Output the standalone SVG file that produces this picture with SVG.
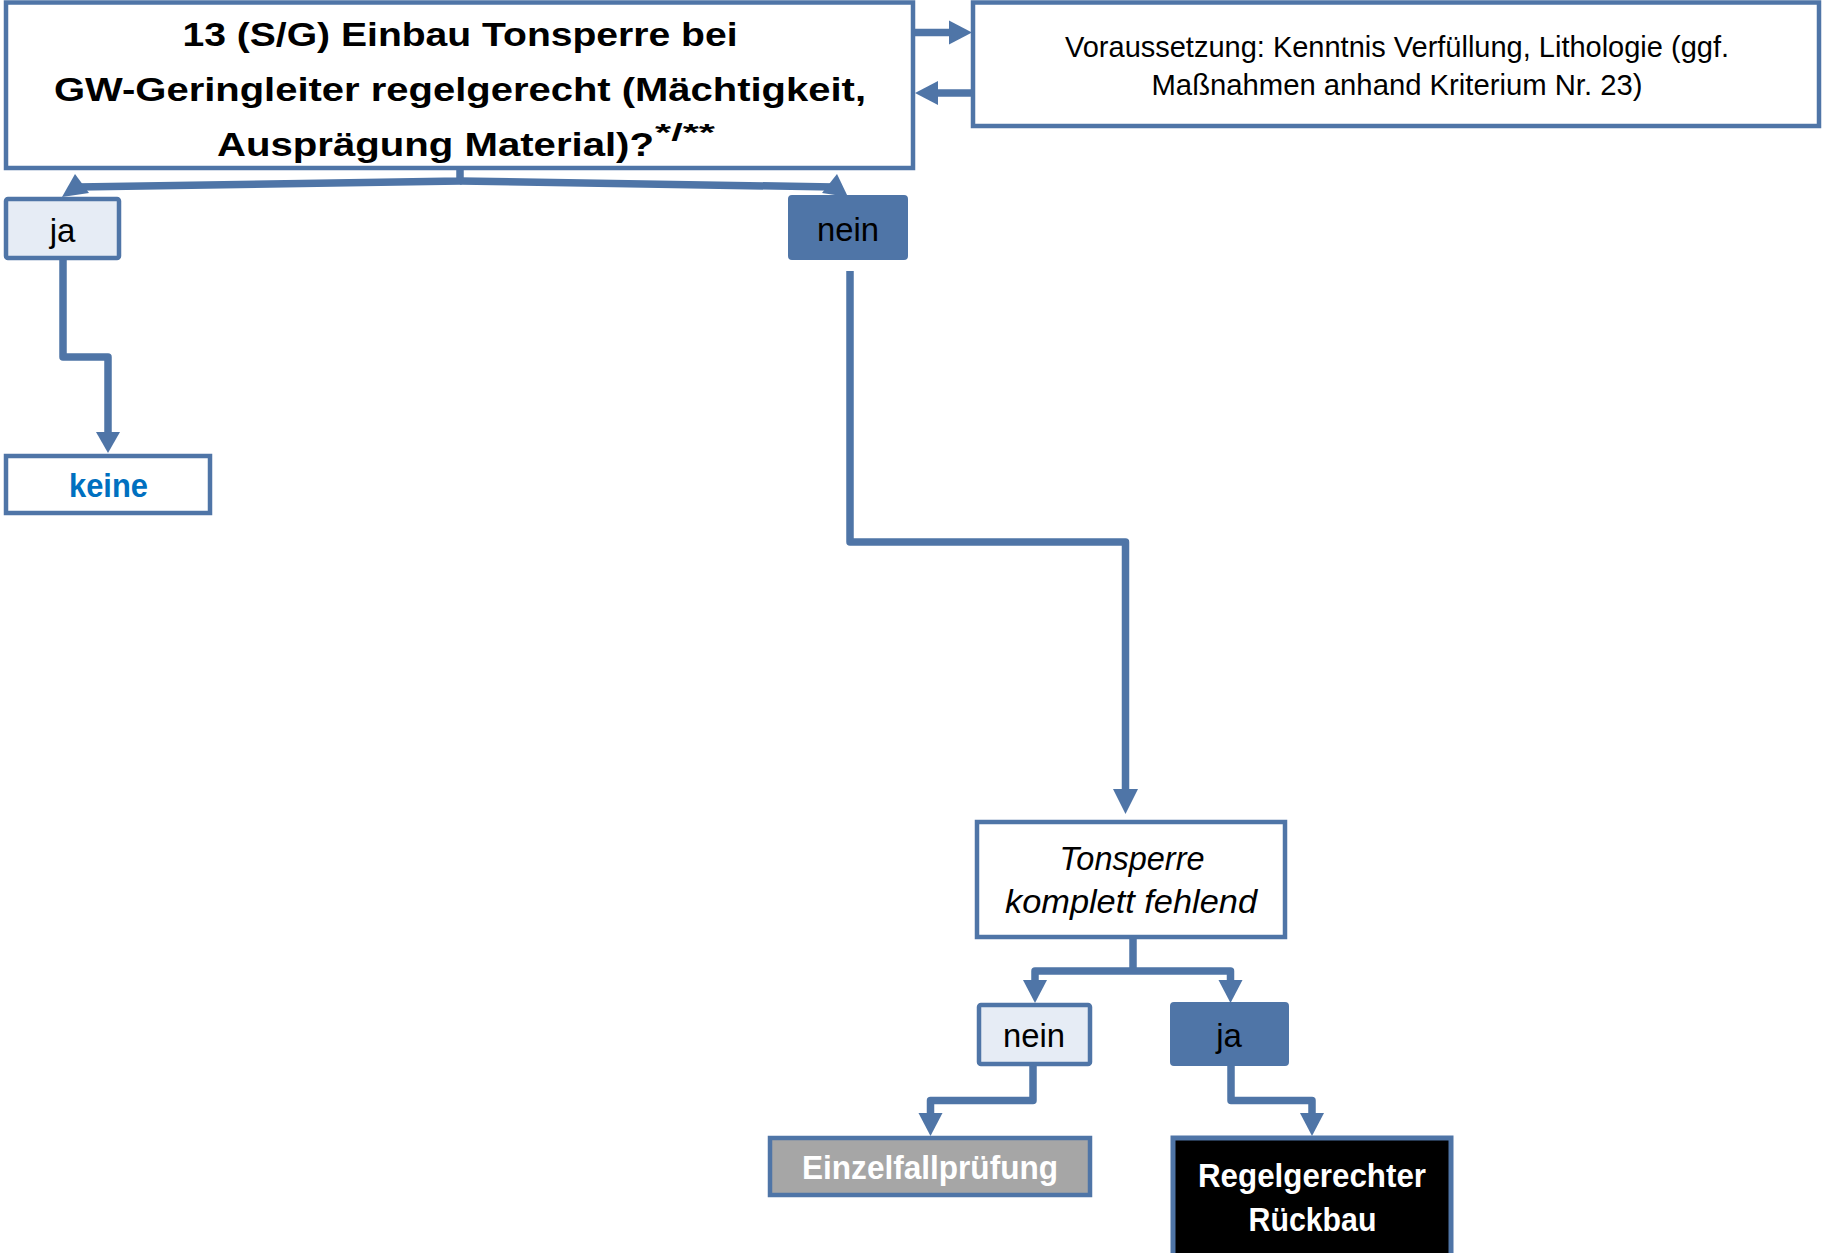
<svg xmlns="http://www.w3.org/2000/svg" width="1825" height="1253" viewBox="0 0 1825 1253">
<style>
  .box { fill: #ffffff; stroke: #4F75A7; stroke-width: 4.5; }
  .light { fill: #E6ECF5; stroke: #4F75A7; stroke-width: 4.5; }
  .dark { fill: #4F75A7; stroke: #4F75A7; stroke-width: 2; }
  .grey { fill: #A6A6A6; stroke: #4F75A7; stroke-width: 4.5; }
  .black { fill: #000000; stroke: #4F75A7; stroke-width: 5; }
  .t { font-family: "Liberation Sans", Arial, sans-serif; fill: #000; }
  .b { font-weight: bold; }
  .mid { text-anchor: middle; }
  .conn { fill: none; stroke: #4F75A7; stroke-width: 7.5; stroke-linejoin: round; }
  .head { fill: #4F75A7; stroke: none; }
</style>

<g id="connectors">
  <path class="conn" d="M460,168 V181 L78,187"/>
  <path class="conn" d="M460,181 L834,187"/>
  <polygon class="head" points="75,174 62,197 89,193"/>
  <polygon class="head" points="837,174 822,193 848,197"/>

  <path class="conn" d="M913,32.5 H952"/>
  <polygon class="head" points="972,32.5 949,20.5 949,44.5"/>
  <path class="conn" d="M973,93 H935"/>
  <polygon class="head" points="915,93 938,81 938,105"/>

  <path class="conn" d="M63,258 V357 H108 V434"/>
  <polygon class="head" points="108,453 96,432 120,432"/>

  <path class="conn" d="M850,271 V542 H1125.5 V792"/>
  <polygon class="head" points="1125.5,814 1113,789 1138,789"/>

  <path class="conn" d="M1133,937 V971"/>
  <path class="conn" d="M1035,983 V971 H1230.5 V983"/>
  <polygon class="head" points="1035,1003 1023,980 1047,980"/>
  <polygon class="head" points="1230.5,1003 1218.5,980 1242.5,980"/>

  <path class="conn" d="M1033,1065 V1100.5 H930.5 V1115"/>
  <polygon class="head" points="930.5,1136 918.5,1113 942.5,1113"/>

  <path class="conn" d="M1231,1065 V1100.5 H1312 V1115"/>
  <polygon class="head" points="1312,1136 1300,1113 1324,1113"/>
</g>

<g id="n-frage">
  <rect class="box" x="6" y="2.5" width="907" height="165.5"/>
  <text class="t b mid" x="460" y="46" font-size="34" textLength="555" lengthAdjust="spacingAndGlyphs">13 (S/G) Einbau Tonsperre bei</text>
  <text class="t b mid" x="460" y="101" font-size="34" textLength="812" lengthAdjust="spacingAndGlyphs">GW-Geringleiter regelgerecht (Mächtigkeit,</text>
  <text class="t b" x="217" y="156" font-size="34" textLength="437" lengthAdjust="spacingAndGlyphs">Ausprägung Material)?</text>
  <text class="t b" x="655" y="141" font-size="23" textLength="60" lengthAdjust="spacingAndGlyphs">*/**</text>
</g>

<g id="n-voraussetzung">
  <rect class="box" x="973" y="2.5" width="846" height="123.5"/>
  <text class="t mid" x="1397" y="57" font-size="29" textLength="664" lengthAdjust="spacingAndGlyphs">Voraussetzung: Kenntnis Verfüllung, Lithologie (ggf.</text>
  <text class="t mid" x="1397" y="95" font-size="29" textLength="491" lengthAdjust="spacingAndGlyphs">Maßnahmen anhand Kriterium Nr. 23)</text>
</g>

<g id="n-ja1">
  <rect class="light" x="6" y="199" width="113" height="59" rx="2"/>
  <text class="t mid" x="62.5" y="242" font-size="33">ja</text>
</g>

<g id="n-nein1">
  <rect class="dark" x="789" y="196" width="118" height="63" rx="3"/>
  <text class="t mid" x="848" y="241" font-size="33" textLength="62" lengthAdjust="spacingAndGlyphs">nein</text>
</g>

<g id="n-keine">
  <rect class="box" x="6" y="456" width="204" height="57"/>
  <text class="t b mid" x="108.5" y="497" font-size="33" style="fill:#0070C0" textLength="79" lengthAdjust="spacingAndGlyphs">keine</text>
</g>

<g id="n-tonsperre">
  <rect class="box" x="977" y="822" width="308" height="115"/>
  <text class="t mid" x="1132" y="870" font-size="33" font-style="italic" textLength="145" lengthAdjust="spacingAndGlyphs">Tonsperre</text>
  <text class="t mid" x="1131" y="913" font-size="33" font-style="italic" textLength="252" lengthAdjust="spacingAndGlyphs">komplett fehlend</text>
</g>

<g id="n-nein2">
  <rect class="light" x="979" y="1005" width="111" height="59" rx="2"/>
  <text class="t mid" x="1034" y="1047" font-size="33" textLength="62" lengthAdjust="spacingAndGlyphs">nein</text>
</g>

<g id="n-ja2">
  <rect class="dark" x="1171" y="1003" width="117" height="62" rx="3"/>
  <text class="t mid" x="1229" y="1047" font-size="33">ja</text>
</g>

<g id="n-einzelfall">
  <rect class="grey" x="770" y="1138" width="320" height="57"/>
  <text class="t b mid" x="930" y="1179" font-size="33" style="fill:#ffffff" textLength="256" lengthAdjust="spacingAndGlyphs">Einzelfallprüfung</text>
</g>

<g id="n-rueckbau">
  <rect class="black" x="1173" y="1138" width="278" height="130"/>
  <text class="t b mid" x="1312" y="1187" font-size="33" style="fill:#ffffff" textLength="228" lengthAdjust="spacingAndGlyphs">Regelgerechter</text>
  <text class="t b mid" x="1312.5" y="1231" font-size="33" style="fill:#ffffff" textLength="128" lengthAdjust="spacingAndGlyphs">Rückbau</text>
</g>
</svg>
